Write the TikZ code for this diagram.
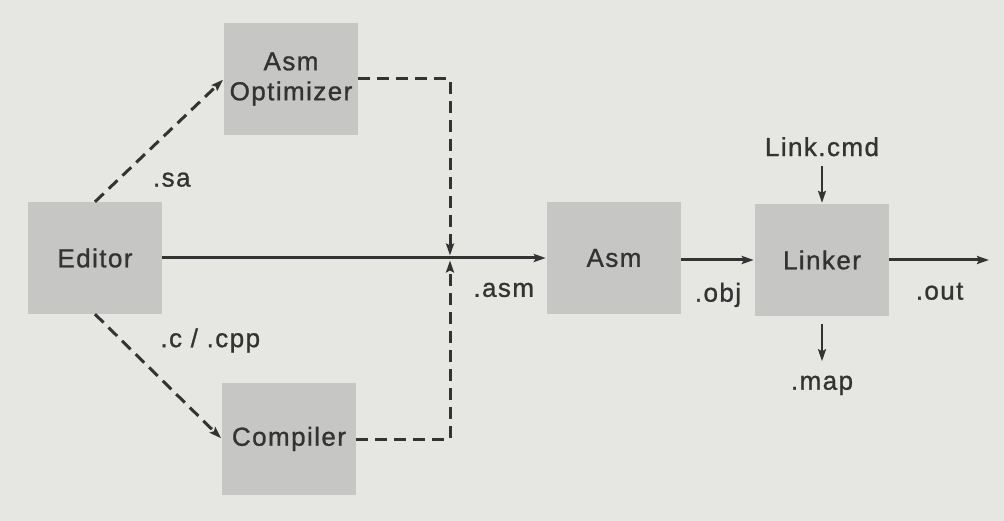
\documentclass[tikz,border=0pt]{standalone}
\usepackage{fontspec}
\setmainfont{Liberation Sans}[LetterSpace=5.5,FakeBold=1]
\usepackage{tikz}
\usetikzlibrary{arrows.meta,positioning}
\definecolor{bg}{HTML}{E6E6E3}
\definecolor{boxgray}{HTML}{C6C6C4}
\definecolor{ink}{HTML}{333333}

\begin{document}
\begin{tikzpicture}[x=1pt,y=-1pt,->,>={Stealth[length=12pt,width=8pt,inset=2pt]},shorten >=1pt,auto,
  every node/.style={font=\fontsize{26}{30}\selectfont, text=ink},
  box/.style={fill=boxgray, minimum width=134pt, minimum height=112pt, align=center},
  flow/.style={draw=ink, line width=3pt},
  tool/.style={draw=ink, line width=3pt, dash pattern=on 12pt off 7pt}]
  \fill[bg,-] (0,0) rectangle (1004,521);

  \node [box] (editor) at (95,258) {Editor};
  \node [box] (asmopt) at (291,79) {Asm\\Optimizer};
  \node [box] (compiler) at (289,439) {Compiler};
  \node [box] (asm) at (614,258) {Asm};
  \node [box] (linker) at (822,260) {Linker};
  \node [above=44pt of linker] (cmd) {Link.cmd};
  \node [below=56pt of linker] (map) {.map};
  \coordinate (join) at (450,258);
  \coordinate (out) at (990,260);

  \path (editor) edge [flow] node [pos=0.888, below=20pt] {.asm} (asm)
        (asm.east |- linker) edge [flow] node [below=18pt] {.obj} (linker)
        (linker) edge [flow] node [below=18pt] {.out} (out);

  \path (cmd) edge [flow, line width=2pt, shorten <=6pt] (linker)
        (linker) edge [flow, line width=2pt, shorten <=8pt, shorten >=11pt] (map);

  \path (editor.north) edge [tool] node [pos=0.18, right=30pt] {.sa} (asmopt.west)
        (editor.south) edge [tool] node [pos=0.21, right=34pt] {.c / .cpp} (compiler.west);

  \draw [tool, shorten >=2.5pt] (asmopt.east) -| (join);
  \draw [tool, shorten >=2.5pt] (compiler.east) -| (join);
\end{tikzpicture}
\end{document}
